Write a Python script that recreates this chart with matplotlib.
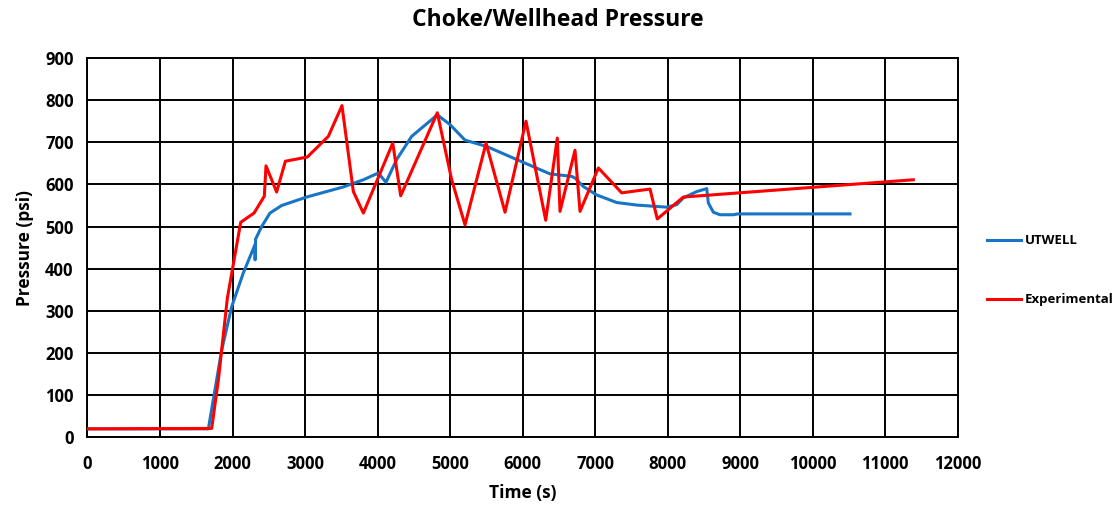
import numpy as np
import matplotlib.pyplot as plt

# UTWELL simulation
utwell_t = [0, 1667, 1851, 1989, 2149, 2310, 2312, 2318, 2402, 2517, 2678, 3023, 3529, 3805,
            4011, 4117, 4264, 4471, 4825, 5000, 5207, 5506, 5920, 6379, 6678, 6724, 6839,
            7023, 7299, 7575, 7989, 8127, 8218, 8403, 8541, 8563, 8632, 8724, 8908, 8970, 10517]
utwell_p = [20, 20, 207, 310, 390, 457, 421, 470, 500, 532, 550, 570, 594, 611,
            627, 605, 659, 714, 765, 742, 705, 690, 659, 625, 619, 615, 595,
            575, 557, 551, 546, 552, 568, 583, 590, 556, 534, 528, 528, 530, 530]

# Experimental measurements
exp_t = [0, 1713, 1805, 1929, 2113, 2297, 2439, 2462, 2609, 2729, 3032, 3322, 3510, 3667,
         3805, 4210, 4320, 4825, 5023, 5207, 5497, 5759, 6048, 6320, 6480, 6517, 6724,
         6793, 7046, 7368, 7759, 7859, 8218, 11390]
exp_p = [20, 21, 136, 330, 510, 532, 572, 644, 582, 655, 665, 714, 787, 583,
         532, 698, 573, 770, 611, 504, 698, 534, 750, 515, 710, 536, 681,
         536, 639, 580, 589, 518, 570, 611]

plt.rcParams['font.family'] = ['Open Sans', 'DejaVu Sans']

fig = plt.figure(figsize=(11.16, 5.13), dpi=100)
ax = fig.add_axes([0.0784, 0.1476, 0.7796, 0.7394])

ax.plot(utwell_t, utwell_p, color='#1874c4', lw=2.2, label='UTWELL', zorder=3)
ax.plot(exp_t, exp_p, color='#ff0000', lw=2.2, label='Experimental', zorder=4)

ax.set_xlim(0, 12000)
ax.set_ylim(0, 900)
ax.set_xticks(np.arange(0, 12001, 1000))
ax.set_yticks(np.arange(0, 901, 100))
ax.grid(True, color='black', lw=1.4)
ax.set_axisbelow(True)
for s in ax.spines.values():
    s.set_color('black')
    s.set_linewidth(1.4)
ax.tick_params(length=0, labelsize=12)
ax.tick_params(axis='x', pad=13)
ax.tick_params(axis='y', pad=10)
for lbl in ax.get_xticklabels() + ax.get_yticklabels():
    lbl.set_fontweight('bold')

ax.set_xlabel('Time (s)', fontsize=12.5, fontweight='bold', labelpad=8)
ax.set_ylabel('Pressure (psi)', fontsize=12.5, fontweight='bold', labelpad=8)
fig.suptitle('Choke/Wellhead Pressure', x=0.5, y=0.985, fontsize=16.5, fontweight='bold')

leg = ax.legend(loc='center left', bbox_to_anchor=(1.02, 0.44), frameon=False,
                handlelength=2.6, handletextpad=0.3, labelspacing=3.5,
                prop={'weight': 'bold', 'size': 9.5})

fig.savefig('out.png', dpi=100)
